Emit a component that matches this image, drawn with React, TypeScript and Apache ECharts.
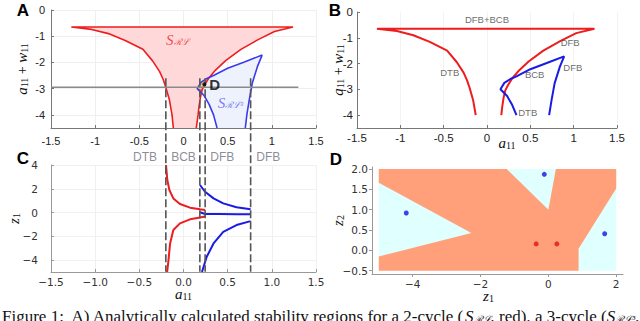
import React, { useEffect, useRef } from "react";
import * as echarts from "echarts";

type P = [number, number];

// ---------- Panel A / B : stability regions (x = a11, y = a11 + w11) ----------
const redLeft: P[] = [[-1.27, -0.65], [-1.04, -0.74], [-0.85, -0.9], [-0.66, -1.16], [-0.46, -1.5], [-0.35, -1.94], [-0.27, -2.35], [-0.23, -2.65], [-0.2, -2.95], [-0.16, -3.42], [-0.13, -4.0], [-0.115, -4.5]];
const redRight: P[] = [[1.24, -0.65], [1.03, -0.82], [0.85, -1.12], [0.65, -1.5], [0.48, -1.92], [0.36, -2.3], [0.29, -2.58], [0.24, -2.85], [0.21, -3.05], [0.19, -3.35], [0.175, -3.7], [0.165, -4.0], [0.145, -4.5]];
const blueUpper: P[] = [[0.155, -3.0], [0.2, -2.75], [0.27, -2.6], [0.34, -2.5], [0.5, -2.22], [0.69, -1.98], [0.89, -1.72]];
const blueRight: P[] = [[0.89, -1.72], [0.84, -2.13], [0.78, -2.77], [0.745, -3.42], [0.717, -4.0], [0.7, -4.5]];
const blueLower: P[] = [[0.155, -3.0], [0.23, -3.25], [0.29, -3.6], [0.34, -4.0], [0.38, -4.5]];
const overlapRegion: P[] = [[0.155, -3.0], [0.2, -2.75], [0.27, -2.6], [0.292, -2.575], [0.24, -2.85], [0.21, -3.05], [0.202, -3.16]];
const sectionY = -2.95;
const sectionX: number[] = [-1.5, 1.3];
const dashX: number[] = [-0.2, 0.185, 0.245, 0.76];
const dashTop = -2.6;
const dashBottom = -9.98;
const pointD: P = [0.236, -2.83];
const bLimitY = -4.0;
const bLabels: { t: string; p: P }[] = [
  { t: "DFB+BCB", p: [0.0, -0.3] },
  { t: "DFB", p: [0.96, -1.2] },
  { t: "DTB", p: [-0.43, -2.36] },
  { t: "BCB", p: [0.55, -2.44] },
  { t: "DFB", p: [0.99, -2.17] },
  { t: "DTB", p: [0.47, -3.88] },
];
const abTicksY: number[] = [-4, -3, -2, -1, 0];

// ---------- Panel C : z1 vs a11 ----------
const cRedUpper: P[] = [[-0.198, 4.0], [-0.183, 2.74], [-0.16, 1.9], [-0.115, 1.19], [-0.04, 0.72], [0.074, 0.41], [0.187, 0.27], [0.245, 0.22]];
const cRedLower: P[] = [[-0.185, -5.0], [-0.17, -4.0], [-0.152, -2.6], [-0.115, -1.47], [-0.04, -0.91], [0.074, -0.57], [0.187, -0.41], [0.245, -0.33]];
const cBlueUpper: P[] = [[0.187, 2.32], [0.244, 1.75], [0.34, 1.19], [0.45, 0.77], [0.6, 0.44], [0.76, 0.27]];
const cBlueMiddle: P[] = [[0.187, 0.02], [0.245, -0.12], [0.4, -0.13], [0.6, -0.14], [0.76, -0.15]];
const cBlueLower: P[] = [[0.209, -5.0], [0.263, -3.72], [0.34, -2.6], [0.45, -1.62], [0.6, -1.05], [0.76, -0.72]];
const cHeader: { t: string; x: number }[] = [
  { t: "DTB", x: -0.435 }, { t: "BCB", x: 0.0 }, { t: "DFB", x: 0.44 }, { t: "DFB", x: 0.96 },
];
const cHeaderY = 4.67;
const cTicksY: number[] = [-4, -2, 0, 2, 4];

// ---------- Panel D : basins in (z1, z2) ----------
const dDomain: P[] = [[-5, -0.5], [2, -0.5], [2, 2], [-5, 2]];
const dOrange: P[] = [[-5, 2], [-1.23, 2], [0, 1.0], [0.22, 2], [2, 2], [2, 1.52], [0.89, 0.04], [0.89, -0.5], [-5, -0.5], [-5, -0.15], [-2.27, 0.43], [-5, 1.66]];
const dBlueDots: P[] = [[-4.19, 0.92], [-0.12, 1.87], [1.66, 0.41]];
const dRedDots: P[] = [[-0.36, 0.16], [0.25, 0.16]];
const dTicksX: number[] = [-4, -2, 0, 2];
const dTicksY: number[] = [-0.5, 0, 0.5, 1.0, 1.5, 2.0];

const RED = "#ee1c1c";
const BLUE = "#1a1ae6";
const SANS = "Liberation Sans, Arial, sans-serif";
const DJV = "DejaVu Sans, sans-serif";
const SERIF = "Liberation Serif, Times New Roman, serif";

const minus = (v: number, d: number) => {
  const s = d >= 0 ? v.toFixed(d) : String(v);
  return s.replace("-", "\u2212");
};

const polygon = (pts: P[], fill: string, xi: number, yi: number, z = 1) => ({
  type: "custom",
  xAxisIndex: xi,
  yAxisIndex: yi,
  silent: true,
  clip: true,
  z,
  data: [pts[0]],
  renderItem: (_p: any, api: any) => ({
    type: "polygon",
    shape: { points: pts.map((p) => api.coord(p)) },
    style: { fill },
  }),
});

const line = (pts: P[], color: string, width: number, xi: number, yi: number, z = 3) => ({
  type: "line",
  xAxisIndex: xi,
  yAxisIndex: yi,
  data: pts,
  showSymbol: false,
  symbol: "none",
  silent: true,
  z,
  lineStyle: { color, width },
});

const upTo = (pts: P[], lim: number) => pts.filter((p) => p[1] >= lim - 1e-9);

const mathRich = {
  i: { fontFamily: SERIF, fontStyle: "italic", fontSize: 15, color: "#111", lineHeight: 14 },
  n: { fontFamily: SERIF, fontSize: 14, color: "#111", lineHeight: 14 },
  s: { fontFamily: SERIF, fontSize: 10, color: "#111", lineHeight: 6, verticalAlign: "bottom" },
};

const valAxis = (grid: number, min: number, max: number, extra: any) => ({
  type: "value",
  gridIndex: grid,
  min,
  max,
  nameMoveOverlap: false,
  ...extra,
  axisLine: { onZero: false, ...(extra.axisLine || {}) },
});

export default function App() {
  const ref = useRef<HTMLDivElement>(null);
  useEffect(() => {
    if (!ref.current) return;
    const chart = echarts.init(ref.current, undefined, { renderer: "svg" });

    const abAxisLine = { show: true, lineStyle: { color: "#777", width: 1 } };
    const abLabel = { fontFamily: SANS, fontSize: 11, color: "#222" };
    const cdLabel = { fontFamily: DJV, fontSize: 10.5, color: "#333" };

    const option: any = {
      animation: false,
      backgroundColor: "#fff",
      grid: [
        { left: 51, top: 10, width: 265, height: 118, containLabel: false, outerBoundsMode: "none" },
        { left: 357, top: 12, width: 260, height: 116, containLabel: false, outerBoundsMode: "none" },
        { left: 51, top: 165, width: 265, height: 107, containLabel: false, outerBoundsMode: "none" },
        { left: 372, top: 167, width: 251, height: 107, containLabel: false, outerBoundsMode: "none" },
      ],
      xAxis: [
        valAxis(0, -1.5, 1.5, {
          interval: 0.5,
          axisLine: abAxisLine,
          axisTick: { show: true, inside: true, length: 3, lineStyle: { color: "#777" } },
          axisLabel: { ...abLabel, margin: 7, formatter: (v: number) => String(v) },
          splitLine: { show: true, lineStyle: { color: "#efefef" } },
        }),
        valAxis(1, -1.5, 1.5, {
          interval: 0.5,
          axisLine: abAxisLine,
          axisTick: { show: true, inside: true, length: 3, lineStyle: { color: "#777" } },
          axisLabel: { ...abLabel, fontSize: 11.5, margin: 4, formatter: (v: number) => String(v) },
          splitLine: { show: true, lineStyle: { color: "#f3f3f3" } },
          name: "{i|a}{s|11}",
          nameLocation: "middle",
          nameGap: 8,
          nameTextStyle: { rich: mathRich, padding: [0, 0, 0, 40] },
        }),
        valAxis(2, -1.5, 1.5, {
          interval: 0.5,
          axisLine: { show: true, lineStyle: { color: "#999" } },
          axisTick: { show: true, length: 3, inside: true, lineStyle: { color: "#999" } },
          axisLabel: { ...cdLabel, margin: 4, formatter: (v: number) => minus(v, 1) },
          splitLine: { show: true, lineStyle: { color: "#f0f0f0" } },
          name: "{i|a}{s|11}",
          nameLocation: "middle",
          nameGap: 15,
          nameTextStyle: { rich: mathRich },
        }),
        valAxis(3, -5.2, 2.2, {
          axisLine: { show: true, lineStyle: { color: "#999" } },
          axisTick: { show: true, length: 3, customValues: dTicksX, lineStyle: { color: "#999" } },
          axisLabel: { ...cdLabel, margin: 4, customValues: dTicksX, formatter: (v: number) => minus(v, -1) },
          splitLine: { show: false },
          name: "{i|z}{s|1}",
          nameLocation: "middle",
          nameGap: 15,
          nameTextStyle: { rich: mathRich, padding: [0, 18, 0, 0] },
        }),
      ],
      yAxis: [
        valAxis(0, -4.5, 0, {
          axisLine: abAxisLine,
          axisTick: { show: true, inside: true, length: 3, customValues: abTicksY, lineStyle: { color: "#777" } },
          axisLabel: { ...abLabel, margin: 6, customValues: abTicksY, formatter: (v: number) => String(v) },
          splitLine: { show: true, lineStyle: { color: "#efefef" } },
          name: "{i|a}{s|11}{n| + }{i|w}{s|11}",
          nameLocation: "middle",
          nameRotate: 90,
          nameGap: 22,
          nameTextStyle: { rich: mathRich },
        }),
        valAxis(1, -4.5, 0, {
          axisLine: abAxisLine,
          axisTick: { show: true, inside: true, length: 3, customValues: abTicksY, lineStyle: { color: "#777" } },
          axisLabel: { ...abLabel, fontSize: 11.5, margin: 4, customValues: abTicksY, formatter: (v: number) => String(v) },
          splitLine: { show: false },
          name: "{i|a}{s|11}{n| + }{i|w}{s|11}",
          nameLocation: "middle",
          nameRotate: 90,
          nameGap: 12,
          nameTextStyle: { rich: mathRich },
        }),
        valAxis(2, -5, 4, {
          axisLine: { show: true, lineStyle: { color: "#999" } },
          axisTick: { show: true, length: 3, inside: true, customValues: cTicksY, lineStyle: { color: "#999" } },
          axisLabel: { ...cdLabel, margin: 13, customValues: cTicksY, formatter: (v: number) => minus(v, -1) },
          splitLine: { show: true, lineStyle: { color: "#f0f0f0" } },
          name: "{i|z}{s|1}",
          nameLocation: "middle",
          nameRotate: 90,
          nameGap: 30,
          nameTextStyle: { rich: mathRich },
        }),
        valAxis(3, -0.58, 2.05, {
          axisLine: { show: true, lineStyle: { color: "#999" } },
          axisTick: { show: true, length: 3, customValues: dTicksY, lineStyle: { color: "#999" } },
          axisLabel: { ...cdLabel, margin: 4, customValues: dTicksY, formatter: (v: number) => minus(v, 1) },
          splitLine: { show: false },
          name: "{i|z}{s|2}",
          nameLocation: "middle",
          nameRotate: 90,
          nameGap: 27,
          nameTextStyle: { rich: mathRich },
        }),
      ],
      series: [
        // ----- A -----
        polygon([...redLeft.slice().reverse(), ...redRight], "#ffd9d9", 0, 0, 1),
        polygon([...blueUpper, ...blueRight.slice(1), ...blueLower.slice().reverse().slice(0, -1)], "#edf2fc", 0, 0, 1),
        polygon(overlapRegion, "#f5c37e", 0, 0, 2),
        line([...redLeft.slice().reverse(), ...redRight], RED, 1.6, 0, 0),
        line([...blueLower.slice().reverse(), ...blueUpper.slice(1), ...blueRight.slice(1)], "#3a3af0", 1.6, 0, 0),
        line(sectionX.map((x) => [x, sectionY] as P), "#8a8a8a", 1.5, 0, 0, 4),
        {
          type: "custom",
          xAxisIndex: 0,
          yAxisIndex: 0,
          clip: false,
          silent: true,
          z: 5,
          data: dashX.map((x) => [x, dashTop]),
          renderItem: (_p: any, api: any) => {
            const x = api.value(0);
            const a = api.coord([x, dashTop]);
            const b = api.coord([x, dashBottom]);
            return {
              type: "line",
              shape: { x1: a[0], y1: a[1], x2: b[0], y2: b[1] },
              style: { stroke: "#555", lineWidth: 1.6, lineDash: [8, 3] },
            };
          },
        },
        {
          type: "scatter",
          xAxisIndex: 0,
          yAxisIndex: 0,
          z: 6,
          silent: true,
          data: [pointD],
          symbolSize: 4,
          itemStyle: { color: "#000" },
          label: { show: true, position: "right", distance: 3, formatter: "D", fontFamily: SANS, fontWeight: "bold", fontSize: 15, color: "#000" },
        },
        {
          type: "scatter",
          xAxisIndex: 0,
          yAxisIndex: 0,
          z: 6,
          silent: true,
          symbolSize: 0,
          data: [
            { value: [-0.07, -1.14], name: "rl" },
            { value: [0.53, -3.54], name: "rl3" },
          ],
          label: {
            show: true,
            position: "inside",
            formatter: (p: any) => (p.name === "rl" ? "{m|S}{s|\u211B\u2112}" : "{b|S}{t|\u211B\u2112\u00B3}"),
            rich: {
              m: { fontFamily: SERIF, fontStyle: "italic", fontSize: 15, color: RED, lineHeight: 14 },
              s: { fontFamily: SERIF, fontStyle: "italic", fontSize: 9, color: RED, lineHeight: 6, verticalAlign: "bottom" },
              b: { fontFamily: SERIF, fontStyle: "italic", fontSize: 15, color: "#5a5af5", lineHeight: 14 },
              t: { fontFamily: SERIF, fontStyle: "italic", fontSize: 9, color: "#5a5af5", lineHeight: 6, verticalAlign: "bottom" },
            },
          },
        },
        // ----- B -----
        line([...upTo(redLeft, bLimitY).slice().reverse(), ...upTo(redRight, bLimitY)], RED, 2, 1, 1),
        line([...upTo(blueLower, bLimitY).slice().reverse(), ...blueUpper.slice(1), ...upTo(blueRight, bLimitY).slice(1)], BLUE, 2, 1, 1),
        {
          type: "scatter",
          xAxisIndex: 1,
          yAxisIndex: 1,
          z: 6,
          silent: true,
          symbolSize: 0,
          data: bLabels.map((d) => ({ value: d.p, name: d.t })),
          label: { show: true, position: "inside", formatter: "{b}", fontFamily: SANS, fontSize: 9.5, color: "#444" },
        },
        // ----- C -----
        line(cRedUpper, RED, 2, 2, 2),
        line(cRedLower, RED, 2, 2, 2),
        line(cBlueUpper, BLUE, 2, 2, 2),
        line(cBlueMiddle, BLUE, 2, 2, 2),
        line(cBlueLower, BLUE, 2, 2, 2),
        {
          type: "scatter",
          xAxisIndex: 2,
          yAxisIndex: 2,
          z: 6,
          clip: false,
          silent: true,
          symbolSize: 0,
          data: cHeader.map((d) => ({ value: [d.x, cHeaderY], name: d.t })),
          label: { show: true, position: "inside", formatter: "{b}", fontFamily: SANS, fontSize: 12, color: "#6e6e7e" },
        },
        // ----- D -----
        polygon(dDomain, "#e0ffff", 3, 3, 1),
        polygon(dOrange, "#ffa07a", 3, 3, 2),
        {
          type: "scatter",
          xAxisIndex: 3,
          yAxisIndex: 3,
          z: 5,
          silent: true,
          data: dBlueDots,
          symbolSize: 5,
          itemStyle: { color: "#1414e0" },
        },
        {
          type: "scatter",
          xAxisIndex: 3,
          yAxisIndex: 3,
          z: 5,
          silent: true,
          data: dRedDots,
          symbolSize: 5,
          itemStyle: { color: "#e01414" },
        },
      ],
      graphic: [
        { type: "text", x: 23, y: 10, style: { text: "A", font: "bold 17px Liberation Sans, Arial, sans-serif", fill: "#000", align: "center", verticalAlign: "middle" } },
        { type: "text", x: 335, y: 10, style: { text: "B", font: "bold 17px Liberation Sans, Arial, sans-serif", fill: "#000", align: "center", verticalAlign: "middle" } },
        { type: "text", x: 23, y: 158, style: { text: "C", font: "bold 17px Liberation Sans, Arial, sans-serif", fill: "#000", align: "center", verticalAlign: "middle" } },
        { type: "text", x: 336, y: 159, style: { text: "D", font: "bold 17px Liberation Sans, Arial, sans-serif", fill: "#000", align: "center", verticalAlign: "middle" } },
        {
          type: "text",
          x: 2,
          y: 316,
          style: {
            text: "{n|Figure 1:  A) Analytically calculated stability regions for a 2-cycle (}{i|S}{s|\u211B\u2112}{n|, red), a 3-cycle (}{i|S}{s|\u211B\u2112\u00B3}{n|,}",
            verticalAlign: "middle",
            rich: {
              n: { fontFamily: SERIF, fontSize: 17, fill: "#111", lineHeight: 17 },
              i: { fontFamily: SERIF, fontStyle: "italic", fontSize: 17, fill: "#111", lineHeight: 17 },
              s: { fontFamily: SERIF, fontStyle: "italic", fontSize: 10, fill: "#111", lineHeight: 7, verticalAlign: "bottom" },
            },
          },
        },
      ],
    };
    chart.setOption(option);
    return () => chart.dispose();
  }, []);
  return (
    <div
      ref={ref}
      style={{ position: "fixed", left: 0, top: 0, width: 640, height: 321, background: "#fff" }}
    />
  );
}
